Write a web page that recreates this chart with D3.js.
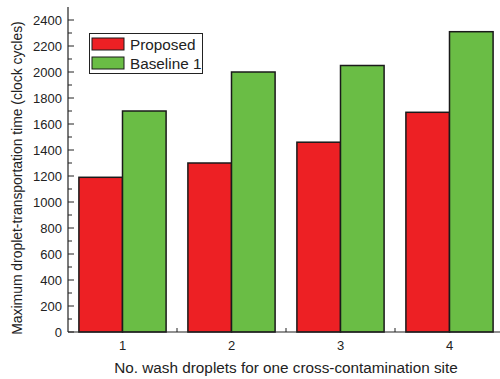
<!DOCTYPE html>
<html><head><meta charset="utf-8">
<script src="https://cdn.jsdelivr.net/npm/d3@7/dist/d3.min.js"></script>
<style>body{margin:0;background:#fff}svg{display:block;font-family:"Liberation Sans",Arial,sans-serif}</style>
</head><body><svg id="c" width="500" height="379"></svg>
<script>
const categories = [1, 2, 3, 4];
const seriesNames = ["Proposed", "Baseline 1"];
const proposed = [1190, 1300, 1460, 1690];
const baseline1 = [1700, 2000, 2050, 2310];
const yTicks = [0, 200, 400, 600, 800, 1000, 1200, 1400, 1600, 1800, 2000, 2200, 2400];
const colors = ["#ED2024", "#6ABD45"];

const svg = d3.select("#c");
const x = d3.scaleLinear().domain([0.5, 4.5]).range([68, 504]);
const y = d3.scaleLinear().domain([0, 2500]).range([332, 7]);
const series = [proposed, baseline1];
const bw = 0.4;

// bars
series.forEach((vals, si) => {
  svg.append("g").selectAll("rect").data(categories).join("rect")
    .attr("x", (d) => x(d - bw + si * bw))
    .attr("width", (d) => x(d - bw + (si + 1) * bw) - x(d - bw + si * bw))
    .attr("y", (d, i) => y(vals[i]))
    .attr("height", (d, i) => y(0) - y(vals[i]))
    .attr("fill", colors[si])
    .attr("stroke", "#1a1a1a")
    .attr("stroke-width", 1.5);
});

// y axis
const yMinor = d3.range(100, 2500, 200);
const gy = svg.append("g").attr("transform", "translate(68,0)");
gy.append("line").attr("x1", 0).attr("x2", 0).attr("y1", y(2500)).attr("y2", y(0)).attr("stroke", "#222").attr("stroke-width", 1.2);
gy.selectAll(".maj").data(yTicks).join("line").attr("x1", 0).attr("x2", 6).attr("y1", d => y(d)).attr("y2", d => y(d)).attr("stroke", "#222");
gy.selectAll(".min").data(yMinor).join("line").attr("x1", 0).attr("x2", 4).attr("y1", d => y(d)).attr("y2", d => y(d)).attr("stroke", "#222");
gy.selectAll("text").data(yTicks).join("text").attr("x", -6).attr("y", d => y(d)).attr("dy", "0.35em")
  .attr("text-anchor", "end").attr("font-size", 13).attr("fill", "#222").text(d => d);

// x axis
const gx = svg.append("g");
gx.append("line").attr("x1", 68).attr("x2", 504).attr("y1", 332).attr("y2", 332).attr("stroke", "#222").attr("stroke-width", 1.2);
gx.selectAll(".min").data([1.5, 2.5, 3.5]).join("line").attr("x1", d => x(d)).attr("x2", d => x(d)).attr("y1", 332).attr("y2", 328).attr("stroke", "#222");
gx.selectAll("text").data(categories).join("text").attr("x", d => x(d)).attr("y", 350)
  .attr("text-anchor", "middle").attr("font-size", 13).attr("fill", "#222").text(d => d);

// titles
svg.append("text").attr("x", 286).attr("y", 373).attr("text-anchor", "middle").attr("font-size", 15.3).attr("fill", "#222")
  .text("No. wash droplets for one cross-contamination site");
svg.append("text").attr("transform", "translate(22,178) rotate(-90)").attr("text-anchor", "middle").attr("font-size", 13.9).attr("fill", "#222")
  .text("Maximum droplet-transportation time (clock cycles)");

// legend
const lg = svg.append("g");
lg.append("rect").attr("x", 89.5).attr("y", 33.5).attr("width", 113).attr("height", 40).attr("fill", "#fff").attr("stroke", "#222").attr("stroke-width", 1);
seriesNames.forEach((n, i) => {
  lg.append("rect").attr("x", 92).attr("y", 38 + i * 19).attr("width", 32).attr("height", 12).attr("fill", colors[i]).attr("stroke", "#1a1a1a").attr("stroke-width", 1);
  lg.append("text").attr("x", 130).attr("y", 44 + i * 19).attr("dy", "0.36em").attr("font-size", 15.3).attr("fill", "#222").text(n);
});
</script></body></html>
